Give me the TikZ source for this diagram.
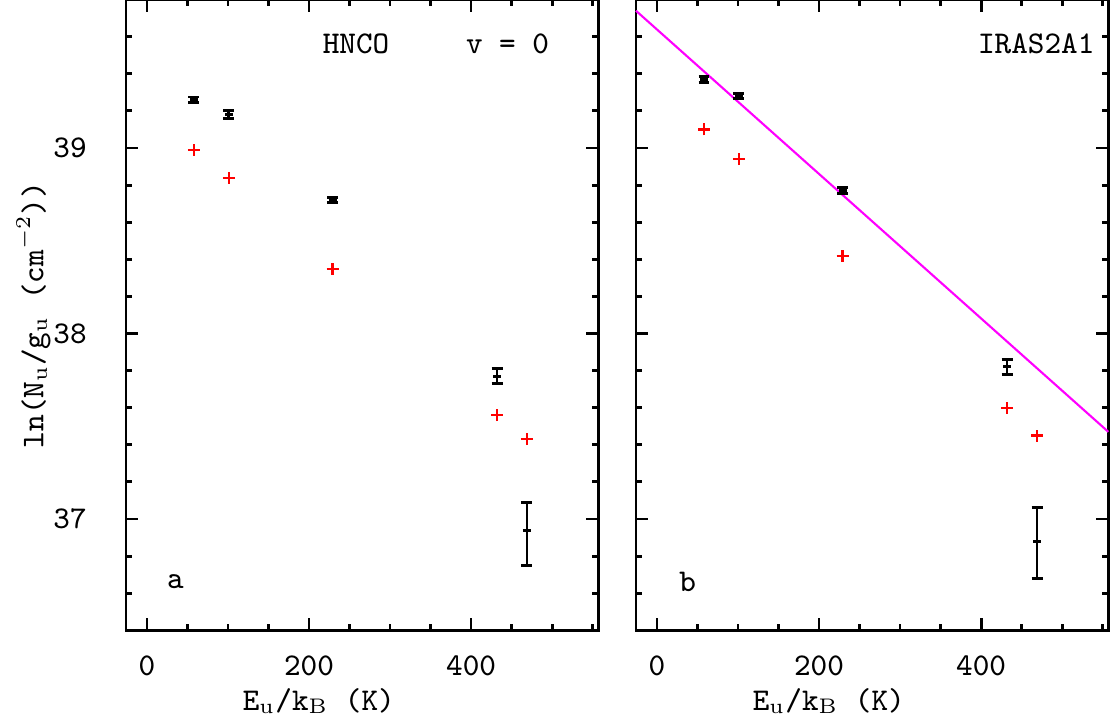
\documentclass[tikz,border=0pt]{standalone}
\usetikzlibrary{positioning}
\definecolor{fitline}{RGB}{255,0,255}
\tikzset{lbl/.style={font=\ttfamily\small,inner sep=1pt}}
\newcommand{\redpt}[2]{\draw[red,semithick] ([xshift=-0.06cm]#1,#2) -- ([xshift=0.06cm]#1,#2); \draw[red,semithick] ([yshift=-0.06cm]#1,#2) -- ([yshift=0.06cm]#1,#2);}
\newcommand{\errpt}[4]{\draw[thick] (#1,#3) -- (#1,#4); \draw[thick] ([xshift=-0.055cm]#1,#3) -- ([xshift=0.055cm]#1,#3); \draw[thick] ([xshift=-0.055cm]#1,#4) -- ([xshift=0.055cm]#1,#4); \draw[thick] ([xshift=-0.04cm]#1,#2) -- ([xshift=0.04cm]#1,#2);}
\newcommand{\frameticks}{%
  \draw[thick] (-26,36.40) rectangle (557,39.80);
  \foreach \x in {0,200,400} {\draw[thick] (\x,36.40) -- ++(0,0.12cm); \draw[thick] (\x,39.80) -- ++(0,-0.12cm);}
  \foreach \x in {50,100,150,250,300,350,450,500,550} {\draw[thick] (\x,36.40) -- ++(0,0.06cm); \draw[thick] (\x,39.80) -- ++(0,-0.06cm);}
  \foreach \y in {37,38,39} {\draw[thick] (-26,\y) -- ++(0.12cm,0); \draw[thick] (557,\y) -- ++(-0.12cm,0);}
  \foreach \y in {36.6,36.8,37.2,37.4,37.6,37.8,38.2,38.4,38.6,38.8,39.2,39.4,39.6} {\draw[thick] (-26,\y) -- ++(0.06cm,0); \draw[thick] (557,\y) -- ++(-0.06cm,0);}
  \foreach \x in {0,200,400} \node[lbl] at (\x,36.21) {\x};
  \node[lbl] at (212,36.02) {E$_{\rm u}$/k$_{\rm B}$ (K)};
}
\begin{document}
\begin{tikzpicture}
\useasboundingbox (0,0) rectangle (11.11,7.18);
\begin{scope}[shift={(1.47cm,{1.99cm-37*1.855cm})},x=0.0081cm,y=1.855cm]
  \frameticks
  \foreach \y in {37,38,39} \node[lbl] at (-95,\y) {\y};
  \node[lbl,rotate=90] at (-140,38.10) {ln(N$_{\rm u}$/g$_{\rm u}$ (cm$^{-2}$))};
  \node[lbl] (mol) at (258,39.56) {HNCO};
  \node[lbl] (vib) at (445,39.56) {v = 0};
  \node[lbl] (pa) at (35,36.66) {a};
  \foreach \x/\y in {58/38.99,101/38.84,229/38.35,432/37.56,469/37.43} {\redpt{\x}{\y}}
  \errpt{58}{39.26}{39.245}{39.275}
  \errpt{101}{39.18}{39.16}{39.20}
  \errpt{229}{38.72}{38.705}{38.735}
  \errpt{432}{37.77}{37.73}{37.81}
  \errpt{469}{36.94}{36.75}{37.09}
\end{scope}
\begin{scope}[shift={(6.57cm,{1.99cm-37*1.855cm})},x=0.0081cm,y=1.855cm]
  \frameticks
  \draw[fitline,semithick] (-26,39.74) -- (557,37.47);
  \node[lbl,anchor=east] (src) at (545,39.56) {IRAS2A1};
  \node[lbl] (pb) at (38,36.66) {b};
  \foreach \x/\y in {58/39.10,101/38.94,229/38.42,432/37.60,469/37.45} {\redpt{\x}{\y}}
  \errpt{58}{39.37}{39.355}{39.385}
  \errpt{101}{39.28}{39.265}{39.295}
  \errpt{229}{38.77}{38.755}{38.785}
  \errpt{432}{37.82}{37.78}{37.86}
  \errpt{469}{36.88}{36.68}{37.06}
\end{scope}
\end{tikzpicture}
\end{document}
